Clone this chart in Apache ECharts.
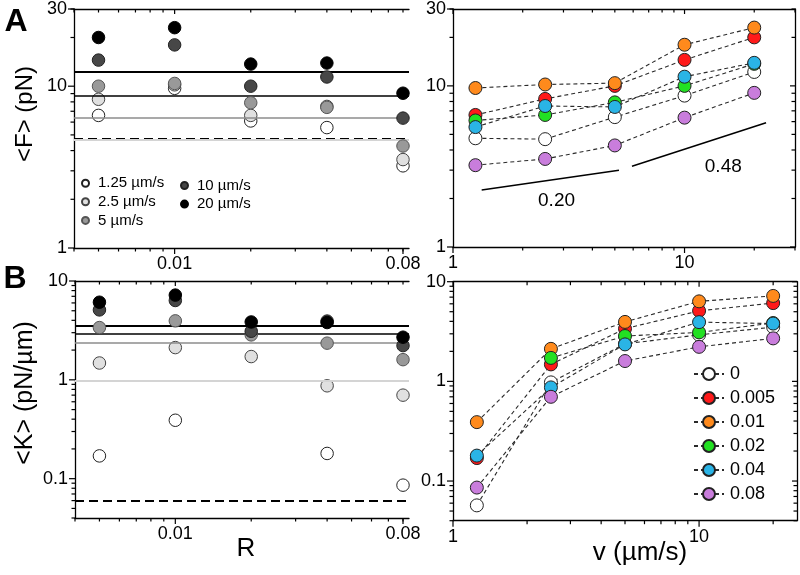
<!DOCTYPE html>
<html><head><meta charset="utf-8">
<script src="https://cdn.jsdelivr.net/npm/echarts@6/dist/echarts.min.js"></script>
<style>html,body{margin:0;padding:0;background:#fff}#c{width:800px;height:575px}</style>
</head><body><div id="c"></div>
<script>
// ---------------- data ----------------
const speeds = [1.25, 2.5, 5, 10, 20];
const speedNames = ['1.25 µm/s', '2.5 µm/s', '5 µm/s', '10 µm/s', '20 µm/s'];
const ratios = [0.005, 0.01, 0.02, 0.04, 0.08];
const ratioNames = ['0', '0.005', '0.01', '0.02', '0.04', '0.08'];
// <F> (pN) per R, values across speeds
const forceR0   = [4.73, 4.67, 6.4, 8.7, 12.2];
const forceR005 = [6.6, 8.3, 10.0, 14.5, 20.0];
const forceR01  = [9.7, 10.2, 10.4, 18.0, 23.0];
const forceR02  = [6.1, 6.6, 7.9, 10.0, 13.7];
const forceR04  = [5.55, 7.5, 7.4, 11.4, 13.9];
const forceR08  = [3.22, 3.52, 4.27, 6.35, 9.05];
// <K> (pN/µm) per R, values across speeds
const stiffR0   = [0.057, 0.977, 2.38, 2.93, 3.5];
const stiffR005 = [0.17, 1.48, 3.38, 5.1, 6.1];
const stiffR01  = [0.39, 2.12, 3.95, 6.35, 7.2];
const stiffR02  = [null, 1.72, 2.85, 3.1, 3.85];
const stiffR04  = [0.18, 0.87, 2.35, 3.93, 3.8];
const stiffR08  = [0.086, 0.70, 1.6, 2.22, 2.7];
// power-law guide lines in panel A (right)
const slopeLow  = [[1.33, 2.26], [5.21, 2.99]];
const slopeHigh = [[5.93, 3.17], [22.5, 5.9]];
const slopeTexts = ['0.20', '0.48'];
const slopeTextPos = [[2.8, 1.94], [14.7, 3.17]];
// tick labels
const forceTickLabels = [1, 10, 30];
const stiffTickLabels = [0.1, 1, 10];
const ratioTickLabels = [0.01, 0.08];
const speedTickLabels = [1, 10];

const forceByR = [forceR005, forceR01, forceR02, forceR04, forceR08];
const stiffByR = [stiffR005, stiffR01, stiffR02, stiffR04, stiffR08];
const forceAll = [forceR0].concat(forceByR);
const stiffAll = [stiffR0].concat(stiffByR);

// ---------------- styles ----------------
const FONT = 'Liberation Sans, Arial, sans-serif';
const grayFill = ['#ffffff', '#e0e0e0', '#999999', '#474747', '#000000'];
const grayBorder = ['#222222', '#444444', '#555555', '#222222', '#000000'];
const refLine = [
  {color: '#000', type: [9, 5], width: 2},
  {color: '#d4d4d4', type: 'solid', width: 2},
  {color: '#8c8c8c', type: 'solid', width: 1.6},
  {color: '#000', type: 'solid', width: 1.6},
  {color: '#000', type: 'solid', width: 2}
];
const ratioColors = ['#ffffff', '#ff1a1a', '#ff8a1c', '#22e022', '#2ab4e6', '#c97ddc'];

function decadeTicks(lo, hi) {
  const out = [];
  for (let e = -4; e <= 2; e++) {
    for (let m = 1; m <= 9; m++) {
      const v = +(m * Math.pow(10, e)).toPrecision(6);
      if (v >= lo * 0.9999 && v <= hi * 1.0001) out.push({v: v, major: m === 1});
    }
  }
  return out;
}

const grids = [
  {left: 74, top: 8.7, width: 335, height: 239.3},   // A left
  {left: 453, top: 7, width: 342, height: 240},      // A right
  {left: 75, top: 281, width: 334, height: 237},     // B left
  {left: 453, top: 281.7, width: 344, height: 239}   // B right
];
const xRanges = [[0.004, 0.0845], [1, 30], [0.004, 0.0845], [1, 25]];
const yRanges = [[1, 30], [1, 30], [0.04, 10], [0.04, 10]];
const xLabels = [ratioTickLabels, speedTickLabels, ratioTickLabels, speedTickLabels];
const yLabels = [forceTickLabels, forceTickLabels, stiffTickLabels, stiffTickLabels];

const axLine = {show: true, lineStyle: {color: '#000', width: 1.3}};
const xAxes = [], yAxes = [];
const mainX = [], mainY = [];
function buildAxes(list, mainList, g, range, labels, posMain, posOpp, showOpp) {
  mainList.push(list.length);
  list.push({
    type: 'log', logBase: 10, gridIndex: g, min: range[0], max: range[1], position: posMain,
    axisLine: axLine, splitLine: {show: false}, axisTick: {show: false},
    axisLabel: {show: true, customValues: labels, fontSize: 18, color: '#000', fontFamily: FONT, margin: 7}
  });
  if (showOpp) {
    list.push({
      type: 'log', logBase: 10, gridIndex: g, min: range[0], max: range[1], position: posOpp,
      axisLine: axLine, splitLine: {show: false}, axisTick: {show: false}, axisLabel: {show: false}
    });
  }
}
for (let g = 0; g < 4; g++) {
  buildAxes(xAxes, mainX, g, xRanges[g], xLabels[g], 'bottom', 'top', true);
  buildAxes(yAxes, mainY, g, yRanges[g], yLabels[g], 'left', 'right', g % 2 === 1);
}

const series = [];
// left panels: value vs R, one series per speed, with R = 0 reference lines
function leftPanel(g, byR, ref) {
  speeds.forEach((s, j) => {
    series.push({
      type: 'scatter', name: speedNames[j], xAxisIndex: mainX[g], yAxisIndex: mainY[g],
      symbol: 'circle', symbolSize: 12.5, z: 3 + j,
      itemStyle: {color: grayFill[j], borderColor: grayBorder[j], borderWidth: 1, opacity: 1},
      data: ratios.map((r, i) => [r, byR[i][j] == null ? '-' : byR[i][j]]),
      markLine: {
        silent: true, symbol: 'none', animation: false,
        label: {show: false}, lineStyle: refLine[j],
        data: [{yAxis: ref[j]}]
      }
    });
  });
}
leftPanel(0, forceByR, forceR0);
leftPanel(2, stiffByR, stiffR0);

// right panels: value vs speed, one line per R
function rightPanel(g, all) {
  ratioNames.forEach((n, k) => {
    series.push({
      type: 'line', name: n, xAxisIndex: mainX[g], yAxisIndex: mainY[g],
      symbol: 'circle', symbolSize: 13, showSymbol: true, z: 3 + k,
      lineStyle: {color: '#2a2a2a', width: 1.1, type: [4, 3]},
      itemStyle: {color: ratioColors[k], borderColor: '#222', borderWidth: 1},
      data: speeds.map((v, j) => [v, all[k][j] == null ? '-' : all[k][j]])
    });
  });
}
rightPanel(1, forceAll);
rightPanel(3, stiffAll);

[slopeLow, slopeHigh].forEach(d => series.push({
  type: 'line', xAxisIndex: mainX[1], yAxisIndex: mainY[1], showSymbol: false, symbol: 'none',
  silent: true, z: 2, lineStyle: {color: '#000', width: 1.5, type: 'solid'}, data: d
}));
// slope annotations placed in data coordinates
series.push({
  type: 'custom', xAxisIndex: mainX[1], yAxisIndex: mainY[1], silent: true, z: 20,
  data: slopeTextPos.map((p, i) => [p[0], p[1], i]),
  renderItem: (params, api) => {
    const p = api.coord([api.value(0), api.value(1)]);
    return {type: 'text', x: p[0], y: p[1],
            style: {text: slopeTexts[api.value(2)], fill: '#000', fontSize: 19, fontFamily: FONT,
                    align: 'center', verticalAlign: 'middle'}};
  }
});

// axis ticks (log decades with minor ticks), drawn through the axes' own coordinate mapping
// kind: 0 bottom (outward), 1 top (inward), 2 left (outward), 3 right (inward)
function tickSeries(g, opp) {
  const xr = xRanges[g], yr = yRanges[g];
  const data = [];
  decadeTicks(xr[0], xr[1]).forEach(t => {
    data.push([t.v, yr[0], 0, t.major ? 6 : 3.5]);
    data.push([t.v, yr[1], 1, t.major ? 5 : 3.5]);
  });
  decadeTicks(yr[0], yr[1]).forEach(t => {
    data.push([xr[0], t.v, 2, t.major ? 6 : 3.5]);
    if (opp) data.push([xr[1], t.v, 3, t.major ? 5 : 3.5]);
  });
  xLabels[g].forEach(v => { if (v !== Math.pow(10, Math.round(Math.log10(v)))) data.push([v, yr[0], 0, 6]); });
  yLabels[g].forEach(v => { if (v !== Math.pow(10, Math.round(Math.log10(v)))) data.push([xr[0], v, 2, 6]); });
  series.push({
    type: 'custom', xAxisIndex: mainX[g], yAxisIndex: mainY[g], silent: true, clip: false, z: 20,
    data: data,
    renderItem: (params, api) => {
      const p = api.coord([api.value(0), api.value(1)]);
      const k = api.value(2), L = api.value(3);
      const dx = (k === 2 || k === 3) ? -L : 0;
      const dy = (k === 0 || k === 1) ? L : 0;
      return {type: 'line', shape: {x1: p[0], y1: p[1], x2: p[0] + dx, y2: p[1] + dy},
              style: {stroke: '#000', lineWidth: 1.2}};
    }
  });
}
for (let g = 0; g < 4; g++) tickSeries(g, g % 2 === 1);

const txt = (t, x, y, size, extra) => Object.assign({
  type: 'text', x: x, y: y,
  style: {text: t, fontSize: size, fontFamily: FONT, fill: '#000', align: 'center', verticalAlign: 'middle',
          textAlign: 'center', textVerticalAlign: 'middle', fontWeight: (extra && extra.bold) ? 'bold' : 'normal'}
}, extra && extra.rot ? {rotation: extra.rot} : {});

const option = {
  animation: false,
  backgroundColor: '#fff',
  grid: grids.map(g => Object.assign({containLabel: false}, g)),
  xAxis: xAxes, yAxis: yAxes,
  legend: [
    {data: speedNames.slice(0, 3), orient: 'vertical', left: 81, top: 175.7, icon: 'circle', padding: 0,
     itemWidth: 7, itemHeight: 7, itemGap: 3.6, selectedMode: false,
     textStyle: {fontSize: 15, fontFamily: FONT, color: '#000', padding: [0, 0, 0, 4]}},
    {data: speedNames.slice(3), orient: 'vertical', left: 180, top: 178, icon: 'circle', padding: 0,
     itemWidth: 7, itemHeight: 7, itemGap: 3.6, selectedMode: false,
     textStyle: {fontSize: 15, fontFamily: FONT, color: '#000', padding: [0, 0, 0, 4]}},
    {data: ratioNames, orient: 'vertical', left: 693, top: 365, itemWidth: 30, itemHeight: 15, padding: 0,
     itemGap: 6, selectedMode: false,
     textStyle: {fontSize: 18, fontFamily: FONT, color: '#000', padding: [0, 0, 0, 1]}}
  ],
  graphic: [
    txt('A', 16, 22, 32, {bold: true}),
    txt('B', 15, 279, 32, {bold: true}),
    txt('<F> (pN)', 25, 114, 24, {rot: Math.PI / 2}),
    txt('<K> (pN/µm)', 25, 393, 25, {rot: Math.PI / 2}),
    txt('R', 246, 549, 26),
    txt('v (µm/s)', 640, 553, 26)
  ],
  series: series
};
const chart = echarts.init(document.getElementById('c'), null, {renderer: 'canvas'});
chart.setOption(option);
</script></body></html>
